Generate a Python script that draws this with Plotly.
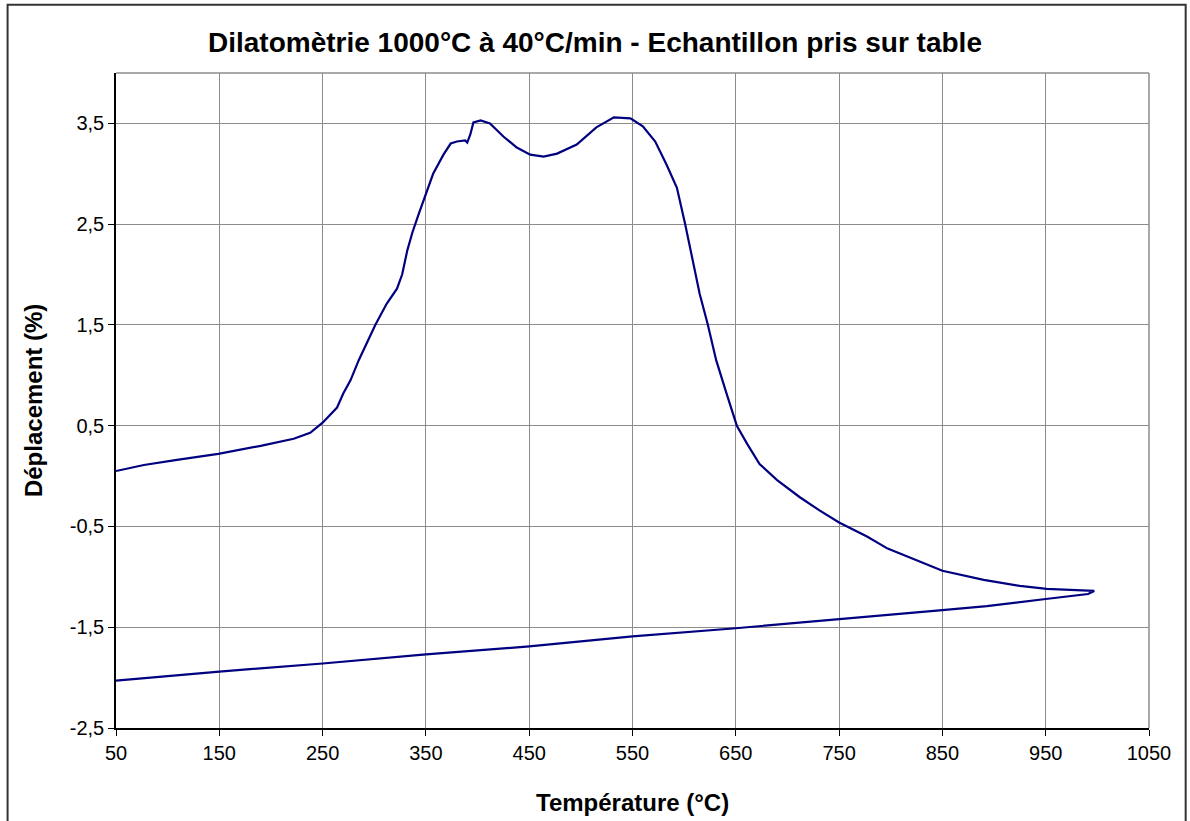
import plotly.graph_objects as go

# Heating branch (temperature °C, displacement %)
heat_temp = [50, 77, 109, 149, 190, 222, 238, 250, 264, 270, 277, 285, 301, 312, 322, 327,
             332, 337, 343, 350, 357, 367, 374, 380, 388, 390, 393, 396, 403, 412, 425,
             438, 451, 464, 477, 496, 515, 532, 548, 560, 572, 583, 593, 601, 606, 609,
             615, 623, 631, 641, 651, 661, 673, 690, 712, 731, 750, 777, 797, 850, 890,
             925, 951, 997]
heat_disp = [0.05, 0.11, 0.16, 0.22, 0.30, 0.37, 0.43, 0.53, 0.68, 0.82, 0.95, 1.15, 1.50, 1.71, 1.86, 2.00,
             2.24, 2.42, 2.60, 2.81, 3.00, 3.19, 3.30, 3.32, 3.33, 3.31, 3.39, 3.51, 3.53, 3.50, 3.37,
             3.26, 3.19, 3.17, 3.20, 3.29, 3.46, 3.56, 3.55, 3.47, 3.32, 3.09, 2.86, 2.50, 2.24, 2.10,
             1.81, 1.50, 1.15, 0.82, 0.50, 0.32, 0.12, -0.04, -0.21, -0.34, -0.46, -0.60, -0.72, -0.94, -1.03,
             -1.09, -1.12, -1.14]

# Cooling branch
cool_temp = [997, 991, 950, 893, 850, 793, 750, 650, 550, 450, 350, 250, 150, 50]
cool_disp = [-1.14, -1.17, -1.22, -1.29, -1.33, -1.38, -1.42, -1.51, -1.59, -1.69, -1.77, -1.86, -1.94, -2.03]

x_ticks = [50, 150, 250, 350, 450, 550, 650, 750, 850, 950, 1050]
y_ticks = [-2.5, -1.5, -0.5, 0.5, 1.5, 2.5, 3.5]
y_labels = ["-2,5", "-1,5", "-0,5", "0,5", "1,5", "2,5", "3,5"]

FONT = "Liberation Sans, Arial, sans-serif"

# plot-area box in pixels
L, R, T, B = 115.5, 1149.3, 73.3, 728.3
PW, PH = R - L, B - T

fig = go.Figure()
fig.add_trace(go.Scatter(
    x=heat_temp + cool_temp, y=heat_disp + cool_disp,
    mode="lines", line=dict(color="#000080", width=2.2), showlegend=False,
))

fig.update_layout(
    width=1190, height=821,
    margin=dict(l=L, r=1190 - R, t=T, b=821 - B),
    paper_bgcolor="white", plot_bgcolor="white",
    font=dict(family=FONT, color="black", size=20),
    title=dict(text="<b>Dilatomètrie 1000°C à 40°C/min - Echantillon pris sur table</b>",
               x=0.5, xref="container", xanchor="center", y=1 - 42 / 821, yanchor="middle",
               font=dict(family=FONT, size=28, color="black")),
    xaxis=dict(range=[50, 1050], tickvals=x_ticks, ticktext=[str(v) for v in x_ticks],
               showgrid=True, gridcolor="#8c8c8c", gridwidth=1,
               showline=True, linecolor="black", linewidth=1.5, mirror=False,
               ticks="outside", ticklen=6, tickcolor="black", zeroline=False,
               tickfont=dict(size=20)),
    yaxis=dict(range=[-2.5, 4.0], tickvals=y_ticks, ticktext=y_labels,
               showgrid=True, gridcolor="#8c8c8c", gridwidth=1,
               showline=True, linecolor="black", linewidth=1.5, mirror=False,
               ticks="outside", ticklen=6, tickcolor="black", zeroline=False,
               tickfont=dict(size=20)),
    annotations=[
        dict(text="<b>Température (°C)</b>", xref="paper", yref="paper",
             x=0.5, y=(B - 803) / PH, xanchor="center", yanchor="middle",
             showarrow=False, font=dict(family=FONT, size=24)),
        dict(text="<b>Déplacement (%)</b>", xref="paper", yref="paper",
             x=(33 - L) / PW, y=0.5, xanchor="center", yanchor="middle",
             textangle=-90, showarrow=False, font=dict(family=FONT, size=24)),
    ],
    shapes=[
        dict(type="line", xref="paper", yref="paper", x0=0, x1=1, y0=1, y1=1,
             line=dict(color="#8c8c8c", width=1.5)),
        dict(type="line", xref="paper", yref="paper", x0=1, x1=1, y0=0, y1=1,
             line=dict(color="#8c8c8c", width=1.5)),
        dict(type="rect", xref="paper", yref="paper",
             x0=(7 - L) / PW, x1=(1186 - L) / PW,
             y0=-0.2, y1=(B - 5) / PH,
             line=dict(color="#333333", width=2), fillcolor="rgba(0,0,0,0)", layer="below"),
    ],
)

fig.write_html("out.html", config={"displayModeBar": False},
               post_script="document.body.style.margin='0';document.body.style.overflow='hidden';")
